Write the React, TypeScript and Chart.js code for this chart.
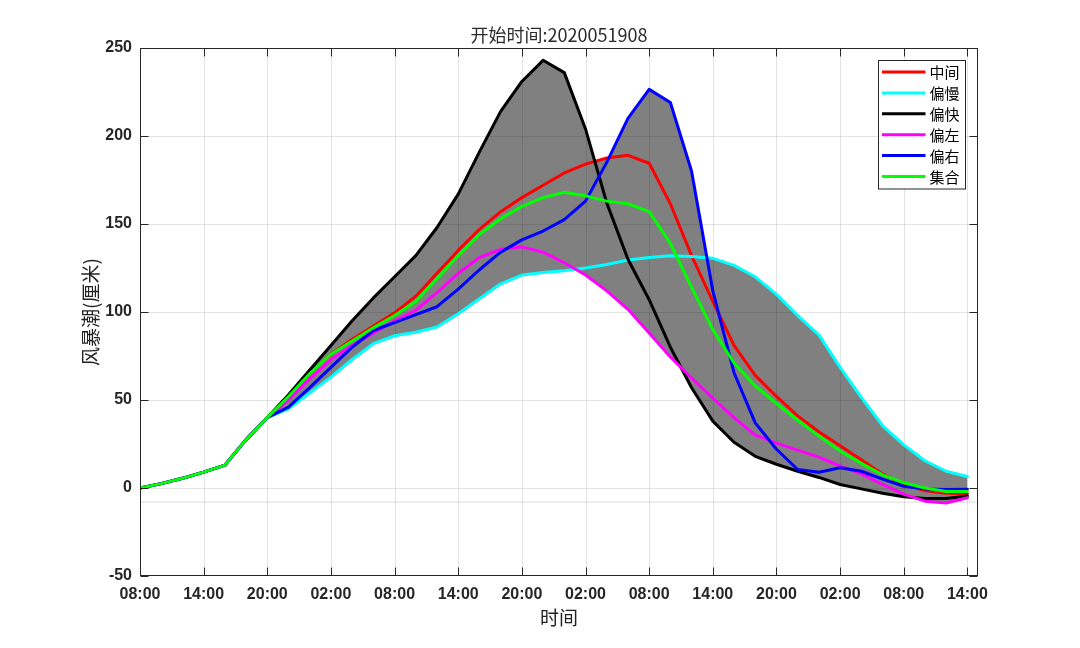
import React, { useEffect, useRef } from 'react';
import { Chart, registerables } from 'chart.js';

Chart.register(...registerables);

// hours since 2020-05-19 08:00
const hours = [0, 2, 4, 6, 8, 10, 12, 14, 16, 18, 20, 22, 24, 26, 28, 30, 32, 34, 36, 38, 40, 42, 44, 46, 48, 50, 52, 54, 56, 58, 60, 62, 64, 66, 68, 70, 72, 74, 76, 78];

const xTickHours = [0, 6, 12, 18, 24, 30, 36, 42, 48, 54, 60, 66, 72, 78];
const xTickLabels = ['08:00', '14:00', '20:00', '02:00', '08:00', '14:00', '20:00', '02:00', '08:00', '14:00', '20:00', '02:00', '08:00', '14:00'];
const yTickValues = [-50, 0, 50, 100, 150, 200, 250];

const seriesNames = ['中间', '偏慢', '偏快', '偏左', '偏右', '集合'];
const seriesColors = ['#ff0000', '#00ffff', '#000000', '#ff00ff', '#0000ff', '#00ff00'];

const middle = [0, 2.5, 5.5, 9, 13, 27.5, 40, 52, 65, 76, 84.5, 92, 99.5, 109, 122, 135, 147, 157, 165, 172, 179, 184, 187.5, 189, 184.5, 161.5, 132, 106, 81, 64, 52, 41, 32, 24, 16, 8, 2, -1.5, -3, -3.2];
const slow = [0, 2.5, 5.5, 9, 13, 27.5, 40, 45, 54, 63, 73, 82, 86.5, 88.5, 91.5, 99, 107.5, 116, 121, 122.5, 123.5, 125, 127, 129.5, 131, 132, 131.5, 130.5, 126.5, 120, 110, 98, 87, 68.5, 51.5, 35.5, 24.5, 15.5, 9.5, 6.5];
const fast = [0, 2.5, 5.5, 9, 13, 27.5, 40, 53, 67, 81, 95, 108, 120, 132, 148, 167, 191, 214, 231, 243, 236, 204, 162, 130, 107, 80, 57, 38, 26, 18, 13.5, 9.5, 6, 2, -0.5, -3, -5, -6, -6, -4.5];
const leftTrack = [0, 2.5, 5.5, 9, 13, 27.5, 40, 50, 62, 73, 81, 88, 95, 101, 111, 122, 131, 135.5, 137, 134, 128, 121, 112, 101.5, 88, 74.5, 62.5, 51, 40, 30, 25.5, 21.5, 17.5, 12.5, 8, 2, -3.5, -7.5, -8.5, -5.5];
const rightTrack = [0, 2.5, 5.5, 9, 13, 27.5, 40, 46, 57, 68.5, 80, 89.5, 94, 98.5, 103, 113, 124, 134, 141, 146, 152.5, 163, 185, 210, 226.5, 219, 180, 112, 65.5, 37, 22, 10.5, 9, 11.5, 9.5, 5, 1, -0.5, -0.8, -0.7];
const ensemble = [0, 2.5, 5.5, 9, 13, 27.5, 40, 52, 65, 76, 83.5, 91, 98, 106, 119, 132, 144, 153, 160, 165, 168, 166, 163, 161.5, 157, 139, 114, 90, 71, 58, 48, 38.5, 29.5, 21, 14, 7.5, 3, 0, -2, -2];

const refLevel = -8;

const titleText = '开始时间:2020051908';
const xTitle = '时间';
const yTitle = '风暴潮(厘米)';

const allSeries = [middle, slow, fast, leftTrack, rightTrack, ensemble];

const AXIS_COLOR = '#262626';
const TICK_FONT = { family: '"Liberation Sans", Arial, sans-serif', size: 16, weight: 'bold' as const };
const CJK = '"Noto Sans CJK SC", "Liberation Sans", sans-serif';

// envelope of all series, with the crossing points between samples added
function buildEnvelope() {
  const upper: { x: number; y: number }[] = [];
  const lower: { x: number; y: number }[] = [];
  const push = (i: number, t: number) => {
    const x = hours[i] + t * ((hours[i + 1] ?? hours[i]) - hours[i]);
    const vals = allSeries.map((s) => s[i] + t * ((s[i + 1] ?? s[i]) - s[i]));
    upper.push({ x, y: Math.max(...vals) });
    lower.push({ x, y: Math.min(...vals) });
  };
  for (let i = 0; i < hours.length; i++) {
    push(i, 0);
    if (i === hours.length - 1) break;
    const ts: number[] = [];
    for (let a = 0; a < allSeries.length; a++) {
      for (let b = a + 1; b < allSeries.length; b++) {
        const d0 = allSeries[a][i] - allSeries[b][i];
        const d1 = allSeries[a][i + 1] - allSeries[b][i + 1];
        if (d0 * d1 < 0) ts.push(d0 / (d0 - d1));
      }
    }
    ts.sort((p, q) => p - q).forEach((t) => push(i, t));
  }
  return { upper, lower };
}

const overlayPlugin = {
  id: 'matlabOverlay',
  afterDatasetDraw(chart: any, args: any) {
    if (args.index !== 1) return;
    const { ctx, chartArea: a, scales } = chart;
    ctx.save();
    ctx.beginPath();
    ctx.rect(a.left, a.top, a.right - a.left, a.bottom - a.top);
    ctx.clip();
    ctx.strokeStyle = 'rgba(0,0,0,0.11)';
    ctx.lineWidth = 1;
    xTickHours.forEach((h) => {
      const px = Math.round(scales.x.getPixelForValue(h)) + 0.5;
      ctx.beginPath();
      ctx.moveTo(px, a.top);
      ctx.lineTo(px, a.bottom);
      ctx.stroke();
    });
    yTickValues.forEach((v) => {
      const py = Math.round(scales.y.getPixelForValue(v)) + 0.5;
      ctx.beginPath();
      ctx.moveTo(a.left, py);
      ctx.lineTo(a.right, py);
      ctx.stroke();
    });
    ctx.restore();
  },
  afterDraw(chart: any) {
    const { ctx, chartArea: a, scales } = chart;
    ctx.save();
    ctx.strokeStyle = AXIS_COLOR;
    ctx.lineWidth = 1;
    const L = Math.round(a.left) + 0.5;
    const R = Math.round(a.right) - 0.5;
    const T = Math.round(a.top) + 0.5;
    const B = Math.round(a.bottom) - 0.5;
    ctx.strokeRect(L, T, R - L, B - T);
    const tl = 8;
    ctx.beginPath();
    xTickHours.forEach((h) => {
      const px = Math.round(scales.x.getPixelForValue(h)) + 0.5;
      ctx.moveTo(px, B);
      ctx.lineTo(px, B - tl);
      ctx.moveTo(px, T);
      ctx.lineTo(px, T + tl);
    });
    yTickValues.forEach((v) => {
      const py = Math.round(scales.y.getPixelForValue(v)) + 0.5;
      ctx.moveTo(L, py);
      ctx.lineTo(L + tl, py);
      ctx.moveTo(R, py);
      ctx.lineTo(R - tl, py);
    });
    ctx.stroke();

    // legend
    const boxR = Math.round(a.right) - 12.5;
    const boxL = boxR - 87;
    const boxT = Math.round(a.top) + 12.5;
    const rowH = 20.9;
    const boxH = 128.5;
    ctx.fillStyle = '#ffffff';
    ctx.fillRect(boxL, boxT, boxR - boxL, boxH);
    ctx.strokeStyle = AXIS_COLOR;
    ctx.lineWidth = 1;
    ctx.strokeRect(boxL, boxT, boxR - boxL, boxH);
    ctx.font = `15px ${CJK}`;
    ctx.textAlign = 'left';
    ctx.textBaseline = 'middle';
    seriesNames.forEach((name, i) => {
      const y = boxT + 11.5 + i * rowH;
      ctx.strokeStyle = seriesColors[i];
      ctx.lineWidth = 3;
      ctx.beginPath();
      ctx.moveTo(boxL + 3.5, y);
      ctx.lineTo(boxL + 47, y);
      ctx.stroke();
      ctx.fillStyle = '#000000';
      ctx.fillText(name, boxL + 51, y + 0.5);
    });

    // titles
    const cx = (a.left + a.right) / 2;
    ctx.fillStyle = '#2b2b2b';
    ctx.textAlign = 'center';
    ctx.textBaseline = 'middle';
    ctx.font = `18px ${CJK}`;
    ctx.fillText(titleText, cx, 35);
    ctx.fillStyle = '#222222';
    ctx.font = `19px ${CJK}`;
    ctx.fillText(xTitle, cx, 618);
    ctx.save();
    ctx.translate(91, (a.top + a.bottom) / 2);
    ctx.rotate(-Math.PI / 2);
    ctx.fillText(yTitle, 0, 0);
    ctx.restore();
    ctx.restore();
  },
};

export default function App() {
  const canvasRef = useRef<HTMLCanvasElement | null>(null);

  useEffect(() => {
    if (!canvasRef.current) return;
    const { upper, lower } = buildEnvelope();

    const datasets: any[] = [
      {
        label: 'upper',
        data: upper,
        borderWidth: 0,
        borderColor: 'rgba(0,0,0,0)',
        pointRadius: 0,
        fill: false,
        tension: 0,
        order: 100,
      },
      {
        label: 'lower',
        data: lower,
        borderWidth: 0,
        borderColor: 'rgba(0,0,0,0)',
        backgroundColor: '#808080',
        pointRadius: 0,
        fill: '-1',
        tension: 0,
        order: 100,
      },
      {
        label: 'ref',
        data: [{ x: 0, y: refLevel }, { x: 79, y: refLevel }],
        borderWidth: 1,
        borderColor: '#dcdcdc',
        pointRadius: 0,
        fill: false,
        order: 101,
      },
      ...allSeries.map((s, k) => ({
        label: seriesNames[k],
        data: hours.map((h, i) => ({ x: h, y: s[i] })),
        borderColor: seriesColors[k],
        backgroundColor: seriesColors[k],
        borderWidth: 3,
        pointRadius: 0,
        fill: false,
        tension: 0,
        borderJoinStyle: 'round',
        borderCapStyle: 'round',
        order: 20 - k,
      })),
    ];

    const chart = new Chart(canvasRef.current, {
      type: 'line',
      data: { datasets },
      plugins: [overlayPlugin],
      options: {
        animation: false,
        responsive: false,
        devicePixelRatio: 1,
        events: [],
        layout: { padding: { top: 48, right: 102, left: 0, bottom: 0 } },
        plugins: {
          legend: { display: false },
          title: { display: false },
          tooltip: { enabled: false },
        },
        scales: {
          x: {
            type: 'linear',
            min: 0,
            max: 79,
            border: { display: false },
            grid: { display: false, drawTicks: false },
            afterBuildTicks: (scale: any) => {
              scale.ticks = xTickHours.map((v) => ({ value: v }));
            },
            afterFit: (scale: any) => {
              scale.height = 72;
            },
            ticks: {
              autoSkip: false,
              maxRotation: 0,
              padding: 9,
              color: AXIS_COLOR,
              font: TICK_FONT,
              callback: (value: any) => {
                const i = xTickHours.indexOf(Number(value));
                return i >= 0 ? xTickLabels[i] : '';
              },
            },
          },
          y: {
            type: 'linear',
            min: -50,
            max: 250,
            border: { display: false },
            grid: { display: false, drawTicks: false },
            afterBuildTicks: (scale: any) => {
              scale.ticks = yTickValues.map((v) => ({ value: v }));
            },
            afterFit: (scale: any) => {
              scale.width = 140;
            },
            ticks: {
              padding: 8,
              color: AXIS_COLOR,
              font: TICK_FONT,
              callback: (value: any) => String(value),
            },
          },
        },
      } as any,
    });
    return () => chart.destroy();
  }, []);

  return (
    <div style={{ position: 'fixed', left: 0, top: 0, width: 1080, height: 648, background: '#ffffff' }}>
      <canvas ref={canvasRef} width={1080} height={648} style={{ width: 1080, height: 648, display: 'block' }} />
    </div>
  );
}
